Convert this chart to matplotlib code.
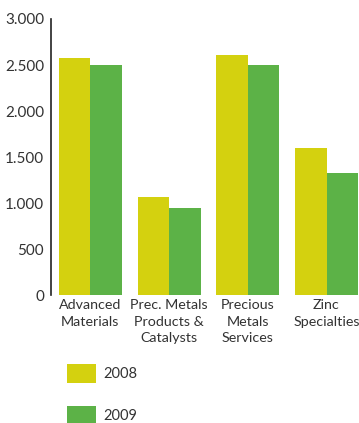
import matplotlib
matplotlib.use("Agg")
from matplotlib import pyplot as plt
import numpy as np

### data ###
categories = ["Advanced\nMaterials", "Prec. Metals\nProducts &\nCatalysts",
              "Precious\nMetals\nServices", "Zinc\nSpecialties"]
years = ["2008", "2009"]
values_2008 = [2580, 1060, 2610, 1600]
values_2009 = [2500, 950, 2500, 1330]
yticks = [0, 500, 1000, 1500, 2000, 2500, 3000]
ytick_labels = ["0", "500", "1.000", "1.500", "2.000", "2.500", "3.000"]

yellow = "#d4d10f"
green = "#5cb247"
text_col = "#333333"

plt.rcParams["font.family"] = ["Lato", "DejaVu Sans"]

fig = plt.figure(figsize=(3.59, 4.23), dpi=100)
ax = fig.add_axes([51 / 359, 128 / 423, 307 / 359, 276 / 423])

x = np.arange(len(categories))
w = 0.4
b1 = ax.bar(x - w / 2, values_2008, w, color=yellow, label=years[0])
b2 = ax.bar(x + w / 2, values_2009, w, color=green, label=years[1])

ax.set_xlim(-0.5, 3.4)
ax.set_ylim(0, 3000)
ax.set_yticks(yticks)
ax.set_yticklabels(ytick_labels, fontsize=11, color=text_col)
ax.set_xticks(x)
ax.set_xticklabels(categories, fontsize=10.3, color=text_col, linespacing=1.45, va="top")
ax.tick_params(axis="x", length=0, pad=3)
ax.tick_params(axis="y", length=0, pad=5)

for s in ["top", "right", "bottom"]:
    ax.spines[s].set_visible(False)
ax.spines["left"].set_color("#222222")
ax.spines["left"].set_linewidth(1.2)

### legend below the chart ###
fig.legend(handles=[b1, b2], labels=years, loc="upper left",
           bbox_to_anchor=(67 / 359, 1 - 364 / 423), frameon=False,
           fontsize=10.5, handlelength=2.0, handleheight=1.6,
           handletextpad=0.5, labelspacing=1.6, borderpad=0,
           borderaxespad=0, labelcolor=text_col)

fig.savefig("out.png", dpi=100)
